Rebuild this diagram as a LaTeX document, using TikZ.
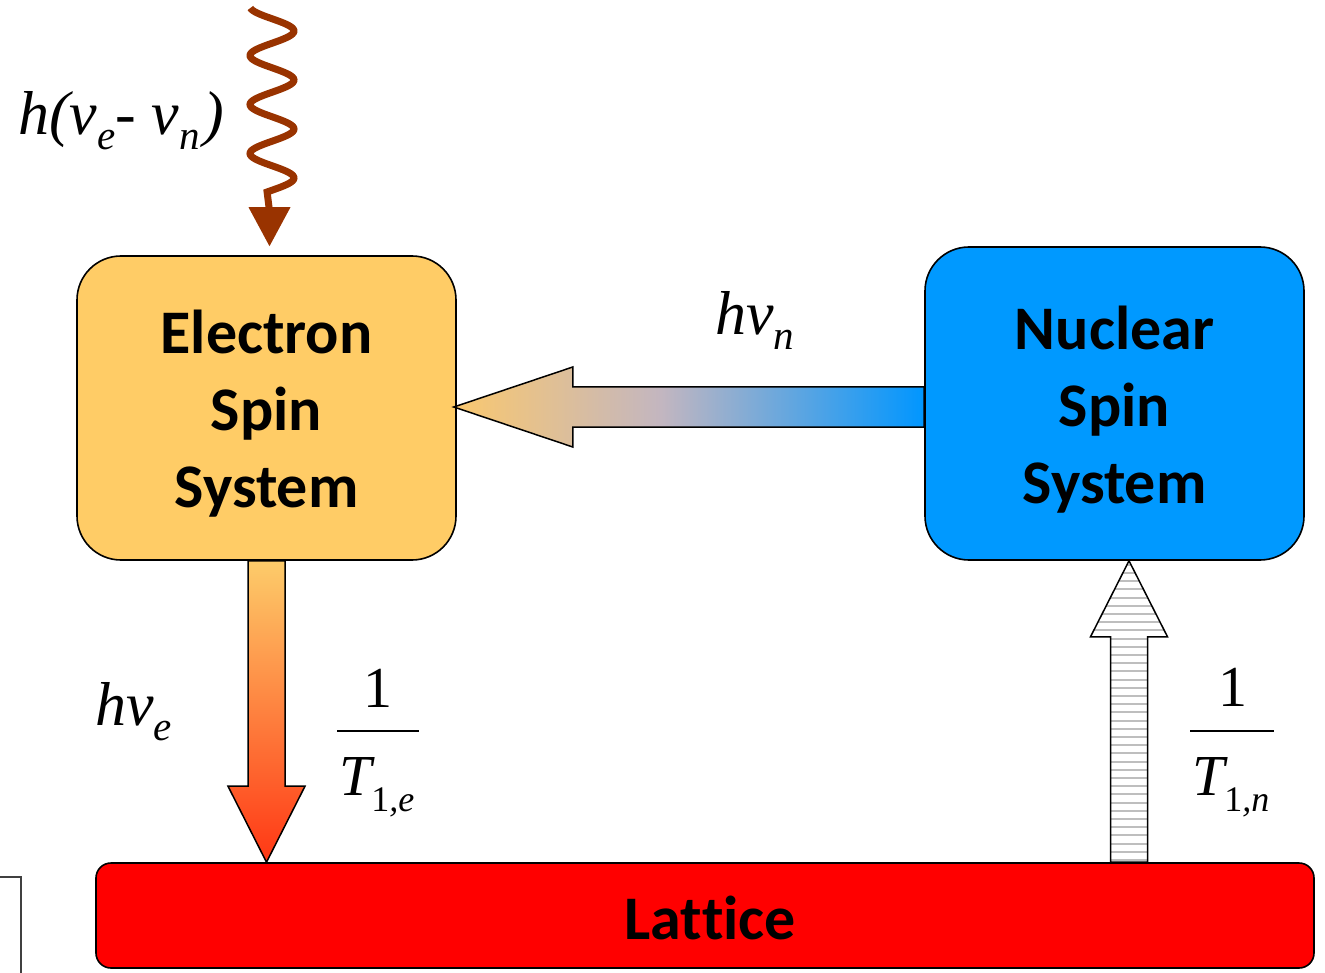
\documentclass[tikz,border=0pt]{standalone}
\usepackage{fontspec}
\setmainfont{Liberation Serif}
\newfontfamily\boxfont[Ligatures={NoCommon}]{Carlito}
\usetikzlibrary{calc}
\definecolor{elecfill}{RGB}{255,204,102}
\definecolor{nucfill}{RGB}{0,153,255}
\definecolor{latfill}{RGB}{255,0,0}
\definecolor{wavecol}{RGB}{153,51,0}
\definecolor{hgA}{RGB}{250,200,110}
\definecolor{hgB}{RGB}{195,182,192}
\definecolor{hgC}{RGB}{0,150,255}
\definecolor{dgTop}{RGB}{253,204,106}
\definecolor{dgBot}{RGB}{255,55,20}
\definecolor{stripecol}{RGB}{190,190,190}
\pgfdeclarehorizontalshading{hshade}{100bp}{color(0bp)=(hgA); color(25bp)=(hgA); color(47bp)=(hgB); color(75bp)=(hgC); color(100bp)=(hgC)}
\newcommand\lsub[1]{\raisebox{-15pt}{\fontsize{41}{41}\selectfont #1}}
\newcommand\fsub[1]{\raisebox{-16pt}{\fontsize{36}{36}\selectfont #1}}
\begin{document}
\begin{tikzpicture}[x=1pt,y=-1pt,
  sysbox/.style={draw=black, line width=1.6pt, inner sep=0pt},
  boxtext/.style={font=\boxfont\bfseries\fontsize{62}{77}\selectfont, align=center, inner sep=0pt},
  lbl/.style={font=\itshape\fontsize{62}{62}\selectfont, inner sep=0pt},
  fracnum/.style={font=\fontsize{58}{58}\selectfont, inner sep=0pt},
  fatarrow/.style={draw=black, line width=1.5pt, line join=miter}]
\useasboundingbox (0,0) rectangle (1325,973);

% partial frame at the left edge
\draw[line width=1.5pt, black!75] (-3,877) -- (21,877) -- (21,980);

% boxes
\node[sysbox, fill=elecfill, rounded corners=44pt, minimum width=379pt, minimum height=304pt,
  label={[boxtext, yshift=-6pt]center:Electron\\Spin\\System}] (elec) at (266.5,408) {};
\node[sysbox, fill=nucfill, rounded corners=44pt, minimum width=379pt, minimum height=313pt,
  label={[boxtext, yshift=-6pt]center:Nuclear\\Spin\\System}] (nuc) at (1114.5,403.5) {};
\node[sysbox, fill=latfill, rounded corners=15pt, minimum width=1218pt, minimum height=105pt,
  label={[boxtext, yshift=-2pt, xshift=5pt]center:Lat\kern0pt tice}] (lat) at (705,915.5) {};

% wavy arrow into electron box
\coordinate (wtop) at (271,8);
\coordinate (wtip) at ($(elec.north)+(3,-9)$);
\draw[wavecol, line width=7pt] plot[domain=8:192, samples=150, smooth] ({272+22*cos((\x-31)*7.3469)}, \x) -- ($(wtip)+(0,-35)$);
\fill[wavecol] ($(wtip)+(-21,-39)$) -- ($(wtip)+(21,-39)$) -- (wtip) -- cycle;

% horizontal arrow nuc -> elec
\coordinate (hA) at ($(elec.east)+(-3,-1)$);
\coordinate (hB) at (nuc.west |- hA);
\shade[shading=hshade, fatarrow] (hA) -- ($(hA)+(119,-40)$) -- ($(hA)+(119,-20)$) -- ($(hB)+(0,-20)$)
  -- ($(hB)+(0,20)$) -- ($(hA)+(119,20)$) -- ($(hA)+(119,40)$) -- cycle;

% down arrow elec -> lattice
\coordinate (dA) at (elec.south);
\coordinate (dB) at (elec.south |- lat.north);
\shade[top color=dgTop, bottom color=dgBot, fatarrow] ($(dA)+(-18.5,0)$) -- ($(dB)+(-18.5,-76)$) -- ($(dB)+(-38.5,-76)$)
  -- (dB) -- ($(dB)+(38.5,-76)$) -- ($(dB)+(18.5,-76)$) -- ($(dA)+(18.5,0)$) -- cycle;

% striped up arrow lattice -> nuc
\coordinate (uA) at ($(nuc.south)+(14.5,0)$);
\coordinate (uB) at (uA |- lat.north);
\def\uppath{($(uB)+(-18.5,0)$) -- ($(uA)+(-18.5,76)$) -- ($(uA)+(-38.5,76)$) -- (uA)
  -- ($(uA)+(38.5,76)$) -- ($(uA)+(18.5,76)$) -- ($(uB)+(18.5,0)$) -- cycle}
\fill[white] \uppath;
\begin{scope}
  \clip \uppath;
  \foreach \yy in {0,...,38} {
    \draw[stripecol, line width=2pt] ($(uA)+(-45,4+8.2*\yy)$) -- ($(uA)+(45,4+8.2*\yy)$);
  }
\end{scope}
\draw[fatarrow] \uppath;

% labels
\node[lbl, anchor=base west] (lwave) at (18,135) {h(v\lsub{e}- v\lsub{n}\kern4pt)};
\node[lbl, anchor=base west] (lhn) at (715,335) {hv\lsub{n}};
\node[lbl, anchor=base west] (lhe) at (95,725) {hv\lsub{e}};

% fraction 1/T_{1,e}
\node[fracnum, anchor=base] (oneE) at (378,707) {1};
\coordinate (barEl) at (337,731);
\coordinate (barEr) at (419,731);
\draw[line width=2pt] (barEl) -- (barEr);
\node[fracnum, anchor=base west] (TE) at (339,795) {\itshape T\fsub{\upshape 1\itshape ,e}};

% fraction 1/T_{1,n}
\node[fracnum, anchor=base] (oneN) at (1233,706) {1};
\coordinate (barNl) at (1190,731);
\coordinate (barNr) at (1274,731);
\draw[line width=2pt] (barNl) -- (barNr);
\node[fracnum, anchor=base west] (TN) at (1192,795) {\itshape T\fsub{\upshape 1\itshape ,n}};
\end{tikzpicture}
\end{document}
